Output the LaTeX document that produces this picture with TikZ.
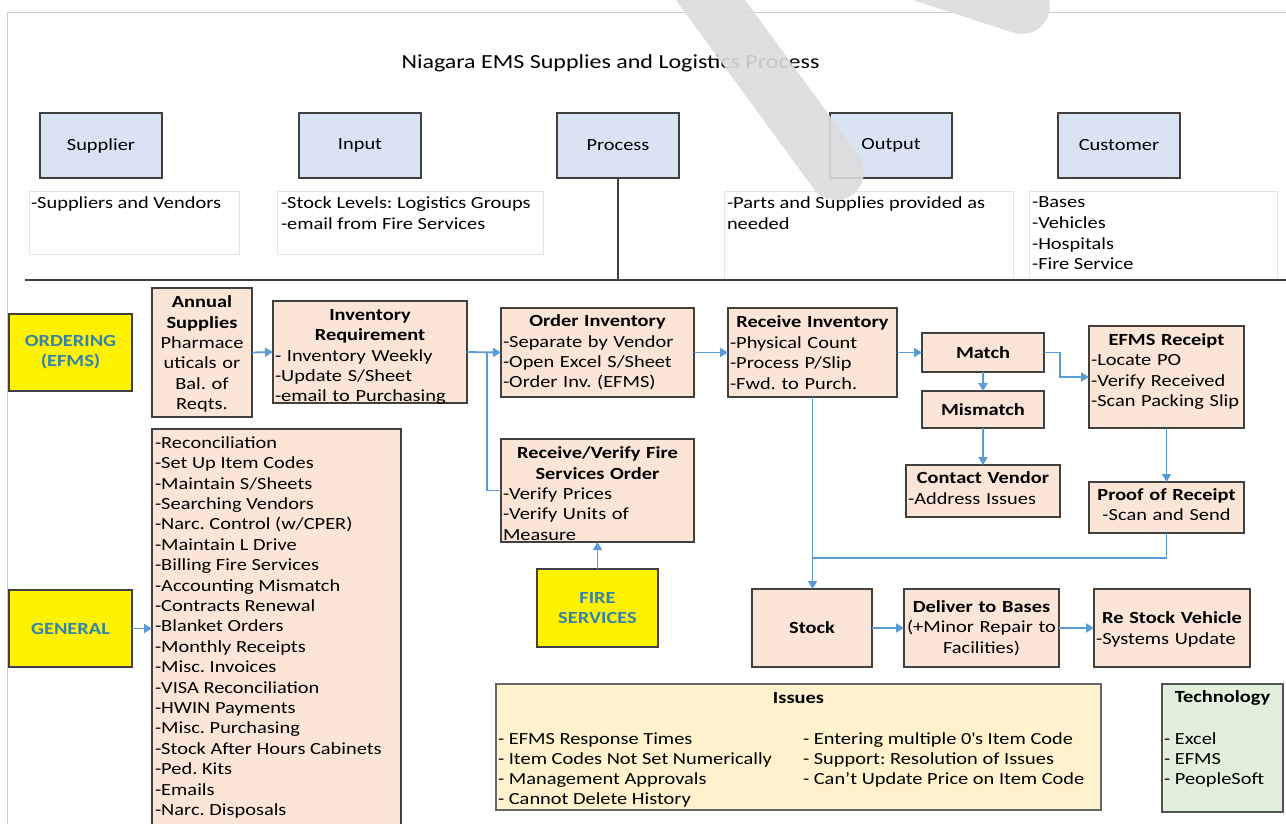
\documentclass[tikz,border=0pt]{standalone}
\usepackage{fontspec}
\setmainfont{Carlito}[FakeStretch=1.2]
\usetikzlibrary{arrows.meta}

\definecolor{edge}{RGB}{64,64,64}
\definecolor{hdrfill}{RGB}{218,227,243}
\definecolor{peach}{RGB}{251,229,214}
\definecolor{flowblue}{RGB}{91,155,213}
\definecolor{labelteal}{RGB}{52,132,170}
\definecolor{issuefill}{RGB}{255,242,204}
\definecolor{techfill}{RGB}{226,239,218}
\definecolor{notegray}{RGB}{225,228,232}
\definecolor{framegray}{RGB}{205,205,205}
\definecolor{markgray}{RGB}{220,220,220}

\newcommand{\fsz}[2]{\fontsize{#1}{#2}\selectfont}
\setlength{\parindent}{0pt}
\setlength{\parskip}{0pt}
\frenchspacing

\begin{document}
\begin{tikzpicture}[x=1pt,y=-1pt,
  every node/.style={inner sep=0pt, outer sep=0pt},
  hdr/.style={draw=edge, fill=hdrfill, line width=1.5pt, anchor=north west,
    minimum width=122pt, minimum height=65pt, font=\fsz{17}{20.5}},
  note/.style={draw=notegray, line width=0.8pt, anchor=north west},
  notetext/.style={anchor=north west, align=left, font=\fsz{17}{20.6}},
  pbox/.style={draw=edge, fill=peach, line width=1.5pt, anchor=north west,
    font=\fsz{17}{20.4}, inner xsep=2pt},
  ptext/.style={anchor=center, font=\fsz{17}{20.4}},
  ybox/.style={draw=edge, fill=yellow, line width=1.5pt, anchor=north west,
    minimum width=123pt, minimum height=77pt, align=center, text=labelteal,
    font=\bfseries\fsz{17}{20}},
  flow/.style={draw=flowblue, line width=1.8pt},
  arrow/.style={flow, -{Triangle[length=8pt,width=9pt]}},
  rule/.style={draw=edge, line width=2pt},
]
\useasboundingbox (0,0) rectangle (1286,823);
\clip (0,0) rectangle (1286,823);

% page frame
\draw[framegray, line width=0.8pt] (7,840) -- (7,12) -- (1300,12);

% title
\node[font=\fsz{20}{24}] (title) at (610.5,63.5) {Niagara EMS Supplies and Logistics Process};

% SIPOC header
\node[hdr] (supplier) at (40,113)   {Supplier};
\node[hdr] (input)    at (299,113)  {Input};
\node[hdr] (process)  at (557,113)  {Process};
\node[hdr] (output)   at (830,113)  {Output};
\node[hdr] (customer) at (1058,113) {Customer};

\node[note, minimum width=210pt, minimum height=63pt] (supnote) at (29,191) {};
\node[note, minimum width=266pt, minimum height=63pt] (innote)  at (277,191) {};
\node[note, minimum width=289pt, minimum height=89pt] (outnote) at (724,191) {};
\node[note, minimum width=248pt, minimum height=89pt] (cusnote) at (1029,191) {};

\node[notetext] (suptext) at (31,197)   {-Suppliers and Vendors};
\node[notetext] (intext)  at (281,197)  {-Stock Levels: Logistics Groups\\-email from Fire Services};
\node[notetext] (outtext) at (727,197)  {-Parts and Supplies provided as\\needed};
\node[notetext] (custext) at (1032,197) {-Bases\\-Vehicles\\-Hospitals\\-Fire Service};

\coordinate (ruleL) at (25,280);
\coordinate (ruleR) at (1300,280);
\draw[rule] (ruleL) -- (ruleR);
\draw[rule] (process.south) -- (process.south |- ruleL);

% ordering row
\node[ybox] (ordering) at (9,314) {ORDERING\\(EFMS)};

\node[pbox, minimum width=100pt, minimum height=129pt] (annual) at (152,288) {};
\node[ptext, text width=96pt, align=center, yshift=-1.5pt] (annualtext) at (annual.center)
  {\textbf{Annual}\\\textbf{Supplies}\\Pharmace\\uticals or\\Bal. of\\Reqts.};

\node[pbox, minimum width=194pt, minimum height=102pt] (invreq) at (273,301) {};
\node[ptext, text width=190pt, align=left, yshift=-5pt] (invreqtext) at (invreq.center)
  {{\centering\bfseries Inventory\\Requirement\par}- Inventory Weekly\\-Update S/Sheet\\-email to Purchasing};

\node[pbox, minimum width=193pt, minimum height=89pt, text width=189pt, align=left]
  (order) at (501,308)
  {{\centering\bfseries Order Inventory\par}-Separate by Vendor\\-Open Excel S/Sheet\\-Order Inv. (EFMS)};

\node[pbox, minimum width=169pt, minimum height=89pt, text width=165pt, align=left]
  (recv) at (728,308)
  {{\centering\bfseries Receive Inventory\par}-Physical Count\\-Process P/Slip\\-Fwd. to Purch.};

\node[pbox, minimum width=122pt, minimum height=39pt, font=\bfseries\fsz{17}{20.4}]
  (match) at (922,333) {Match};
\node[pbox, minimum width=122pt, minimum height=37pt, font=\bfseries\fsz{17}{20.4}]
  (mismatch) at (922,391) {Mismatch};

\node[pbox, minimum width=154pt, minimum height=52pt] (contact) at (906,465) {};
\node[ptext, text width=150pt, align=left, yshift=3pt] (contacttext) at (contact.center)
  {{\centering\bfseries Contact Vendor\par}-Address Issues};

\node[pbox, minimum width=155pt, minimum height=102pt] (efms) at (1089,326) {};
\node[ptext, text width=151pt, align=left, yshift=5.5pt] (efmstext) at (efms.center)
  {{\centering\bfseries EFMS Receipt\par}-Locate PO\\-Verify Received\\-Scan Packing Slip};

\node[pbox, minimum width=155pt, minimum height=51pt] (proof) at (1089,482) {};
\node[ptext, text width=151pt, align=center, yshift=3pt] (prooftext) at (proof.center)
  {\textbf{Proof of Receipt}\\-Scan and Send};

\node[pbox, minimum width=193pt, minimum height=103pt] (rv) at (501,439) {};
\node[ptext, text width=189pt, align=left, yshift=-3pt] (rvtext) at (rv.center)
  {{\centering\bfseries Receive/Verify Fire\\Services Order\par}-Verify Prices\\-Verify Units of\\Measure};

\node[ybox, minimum width=121pt, minimum height=78pt] (fire) at (537,569) {FIRE\\SERVICES};

\node[pbox, minimum width=120pt, minimum height=78pt, font=\bfseries\fsz{17}{20.4}]
  (stock) at (752,589) {Stock};

\node[pbox, minimum width=155pt, minimum height=78pt, text width=151pt, align=center]
  (deliver) at (904,589)
  {\textbf{Deliver to Bases}\\(+Minor Repair to\\Facilities)};

\node[pbox, minimum width=156pt, minimum height=78pt] (restock) at (1094,589) {};
\node[ptext, text width=152pt, align=left, yshift=-1.5pt] (restocktext) at (restock.center)
  {{\centering\bfseries Re Stock Vehicle\par}-Systems Update};

% general duties
\node[ybox] (general) at (9,590) {GENERAL};
\node[pbox, minimum width=249pt, minimum height=420pt] (duties) at (152,429) {};
\node[notetext, font=\fsz{17}{20.4}] (dutylist) at (155,436.5)
  {-Reconciliation\\-Set Up Item Codes\\-Maintain S/Sheets\\-Searching Vendors\\
   -Narc. Control (w/CPER)\\-Maintain L Drive\\-Billing Fire Services\\
   -Accounting Mismatch\\-Contracts Renewal\\-Blanket Orders\\-Monthly Receipts\\
   -Misc. Invoices\\-VISA Reconciliation\\-HWIN Payments\\-Misc. Purchasing\\
   -Stock After Hours Cabinets\\-Ped. Kits\\-Emails\\-Narc. Disposals};

% issues and technology
\node[draw=edge!80, fill=issuefill, line width=1.4pt, anchor=north west,
  minimum width=605pt, minimum height=126pt] (issues) at (496,684) {};
\node[font=\bfseries\fsz{17}{20}] (isshead) at (798.5,698) {Issues};
\node[notetext, font=\fsz{17}{20}] (issleft) at (498,732.5)
  {- EFMS Response Times\\- Item Codes Not Set Numerically\\- Management Approvals\\- Cannot Delete History};
\node[notetext, font=\fsz{17}{20}] (issright) at (803,732.5)
  {- Entering multiple 0\textquotesingle s Item Code\\- Support: Resolution of Issues\\- Can’t Update Price on Item Code};

\node[draw=edge!90, fill=techfill, line width=1.4pt, anchor=north west,
  minimum width=121pt, minimum height=128pt] (tech) at (1162,684) {};
\node[font=\bfseries\fsz{17}{20}] (techhead) at (1222.5,698) {Technology};
\node[notetext, font=\fsz{17}{20}] (techlist) at (1164,732.5) {- Excel\\- EFMS\\- PeopleSoft};

% connectors
\coordinate (fsjoin) at (487,352);
\coordinate (stockjoin) at (812,558);
\draw[arrow] (annual.east) -- (invreq.west);
\draw[arrow] (invreq.east) -- (order.west);
\draw[flow] (rv.west) -| (fsjoin);
\draw[arrow] (order.east) -- (recv.west);
\draw[arrow] (recv.east) -- (match.west);
\draw[arrow] (match.south) -- (mismatch.north);
\draw[arrow] (mismatch.south) -- (contact.north);
\draw[arrow] (match.east) -- ++(16,0) |- (efms.west);
\draw[arrow] (efms.south) -- (proof.north);
\draw[flow] (proof.south) |- (stockjoin);
\draw[arrow] (recv.south) -- (recv.south |- stock.north);
\draw[arrow] (stock.east) -- (deliver.west);
\draw[arrow] (deliver.east) -- (restock.west);
\draw[arrow] (fire.north) -- (rv.south);
\draw[arrow] (general.east) -- (general.east -| duties.west);

% grey marker strokes across the top
\draw[markgray, opacity=0.9, line width=56pt, line cap=round] (685,-35) -- (836,172);
\draw[markgray, opacity=0.9, line width=56pt, line cap=round] (880,-40) -- (1022,6);
\end{tikzpicture}
\end{document}
